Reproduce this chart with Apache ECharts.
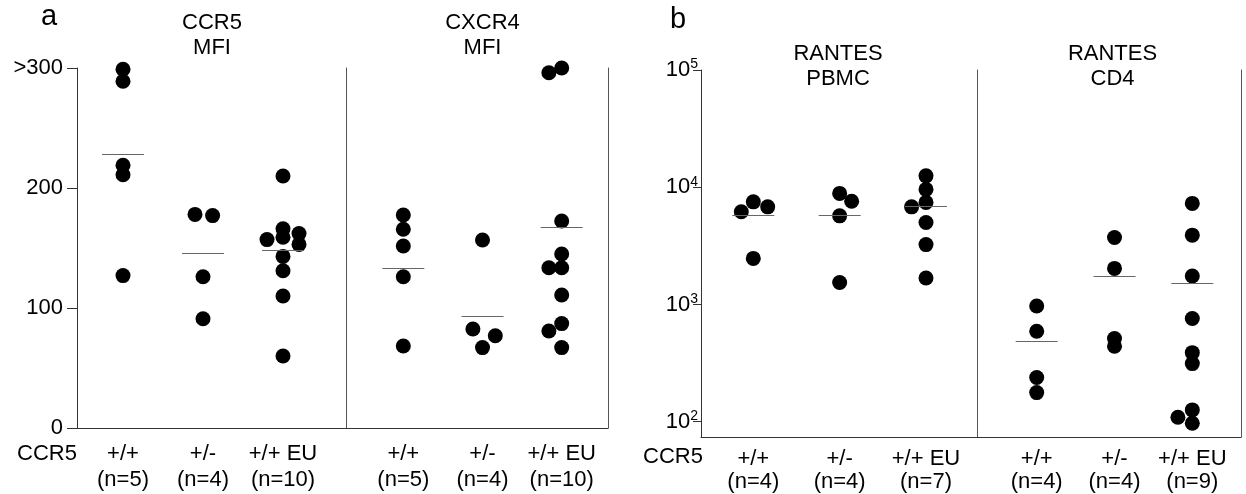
<!DOCTYPE html>
<html>
<head>
<meta charset="utf-8">
<script src="https://cdn.jsdelivr.net/npm/echarts@6/dist/echarts.min.js"></script>
<style>
html,body{margin:0;padding:0;background:#ffffff;}
#chart{width:1246px;height:494px;}
</style>
</head>
<body>
<div id="chart"></div>
<script>
// ---------------- DATA ----------------
const genotypes = ['+/+', '+/-', '+/+ EU'];

// Panel a — CCR5 MFI (values above 300 shown at ">300")
const ccr5MFI = [
  [299, 289, 219, 211, 127],
  [178, 177, 126, 91],
  [210, 166, 157, 159, 162, 153, 143, 131, 110, 60]
];
const ccr5MFISlots = [
  [0, 0, 0, 0, 0],
  [-0.5, 0.6, 0, 0],
  [0, 0, -1, 0, 1, 1, 0, 0, 0, 0]
];
const ccr5MFIMeans = [228, 146, 148];

// Panel a — CXCR4 MFI
const cxcr4MFI = [
  [177.5, 165.6, 151.7, 126, 68.3],
  [156.7, 82.5, 76.9, 67],
  [296, 300, 172.5, 145, 133.6, 133.6, 110.8, 87, 80.8, 67]
];
const cxcr4MFISlots = [
  [0, 0, 0, 0, 0],
  [0, -0.6, 0.8, 0],
  [-0.8, 0, 0, 0, -0.8, 0, 0, 0, -0.8, 0]
];
const cxcr4MFIMeans = [133, 93, 167];

// Panel b — RANTES PBMC
const rantesPBMC = [
  [6170, 7500, 6800, 2470],
  [8860, 7600, 5700, 1540],
  [12500, 9580, 7420, 6800, 5000, 3240, 1680]
];
const rantesPBMCSlots = [
  [-0.75, 0, 0.9, 0],
  [0, 0.75, 0, 0],
  [0, 0, 0, -0.9, 0, 0, 0]
];
const rantesPBMCMeans = [5780, 5780, 6900];

// Panel b — RANTES CD4
const rantesCD4 = [
  [971, 590, 238, 177],
  [3720, 2030, 512, 440],
  [7280, 3900, 1750, 758, 388, 313, 126, 109, 97]
];
const rantesCD4Slots = [
  [0, 0, 0, 0],
  [0, 0, 0, 0],
  [0, 0, 0, 0, 0, 0, 0, -0.9, 0]
];
const rantesCD4Means = [485, 1742, 1528];

// Tick values
const mfiTicks = [0, 100, 200, 300];
const mfiTopLabel = '>300';

// ---------------- LAYOUT / STYLE ----------------
const FONT = '"Liberation Sans", Arial, Helvetica, sans-serif';
const FS = 22;
const DOT = 15;
const DODGE_PX = 16;
const MEAN_HALF_PX = 21;

const panels = [
  {title: 'CCR5\nMFI', tx: 212, ty: 10, left: 77, top: 68, width: 269, height: 360, xMin: 0.425, xMax: 3.7875,
   values: ccr5MFI, slots: ccr5MFISlots, means: ccr5MFIMeans, kind: 'a', first: true},
  {title: 'CXCR4\nMFI', tx: 482.5, ty: 10, left: 346, top: 68, width: 262, height: 360, xMin: 0.2765, xMax: 3.5846,
   values: cxcr4MFI, slots: cxcr4MFISlots, means: cxcr4MFIMeans, kind: 'a', first: false},
  {title: 'RANTES\nPBMC', tx: 838, ty: 41, left: 701, top: 70, width: 276, height: 367, xMin: 0.3943, xMax: 3.5906,
   values: rantesPBMC, slots: rantesPBMCSlots, means: rantesPBMCMeans, kind: 'b', first: true},
  {title: 'RANTES\nCD4', tx: 1112.5, ty: 41, left: 977, top: 70, width: 264, height: 367, xMin: 0.2326, xMax: 3.626,
   values: rantesCD4, slots: rantesCD4Slots, means: rantesCD4Means, kind: 'b', first: false}
];

const grids = [], xAxes = [], yAxes = [], series = [], titles = [];

titles.push({text: 'a', left: 49, top: 2, textAlign: 'center', padding: 0,
  textStyle: {fontFamily: FONT, fontSize: 29, fontWeight: 'normal', color: '#000', lineHeight: 29}});
titles.push({text: 'b', left: 678, top: 5, textAlign: 'center', padding: 0,
  textStyle: {fontFamily: FONT, fontSize: 29, fontWeight: 'normal', color: '#000', lineHeight: 29}});
titles.push({text: 'CCR5', left: 47, top: 441, textAlign: 'center', padding: 0,
  textStyle: {fontFamily: FONT, fontSize: FS, fontWeight: 'normal', color: '#000', lineHeight: 25}});
titles.push({text: 'CCR5', left: 673, top: 445, textAlign: 'center', padding: 0,
  textStyle: {fontFamily: FONT, fontSize: FS, fontWeight: 'normal', color: '#000', lineHeight: 23}});

panels.forEach((p, gi) => {
  grids.push({left: p.left, top: p.top, width: p.width, height: p.height, containLabel: false});
  titles.push({text: p.title, left: p.tx, top: p.ty, textAlign: 'center', padding: 0,
    textStyle: {fontFamily: FONT, fontSize: FS, fontWeight: 'normal', color: '#000', lineHeight: 25}});

  const pxPerUnit = p.width / (p.xMax - p.xMin);
  const dodge = DODGE_PX / pxPerUnit;
  const half = MEAN_HALF_PX / pxPerUnit;
  const counts = p.values.map(v => v.length);

  xAxes.push({
    type: 'value', gridIndex: gi, min: p.xMin, max: p.xMax,
    axisLine: {show: true, onZero: false, lineStyle: {color: '#333', width: 1}},
    axisTick: {show: false},
    splitLine: {show: false},
    axisLabel: {
      show: true,
      customValues: [1, 2, 3],
      formatter: (v) => {
        const i = Math.round(v) - 1;
        return genotypes[i] + '\n(n=' + counts[i] + ')';
      },
      fontFamily: FONT, fontSize: FS, color: '#000',
      lineHeight: p.kind === 'a' ? 26 : 23,
      margin: p.kind === 'a' ? 13 : 10
    }
  });

  const yIndex = yAxes.length;
  if (p.kind === 'a') {
    yAxes.push({
      type: 'value', gridIndex: gi, min: mfiTicks[0], max: mfiTicks[mfiTicks.length - 1], interval: 100,
      axisLine: {show: true, onZero: false, lineStyle: {color: p.first ? '#333' : '#555', width: 1}},
      axisTick: {show: p.first, length: 10, lineStyle: {color: '#333', width: 1}},
      splitLine: {show: false},
      axisLabel: {
        show: p.first, margin: 14, fontFamily: FONT, fontSize: FS, color: '#000',
        formatter: (v) => (v === mfiTicks[mfiTicks.length - 1] ? mfiTopLabel : String(v))
      }
    });
  } else {
    yAxes.push({
      type: 'log', logBase: 10, gridIndex: gi, min: 74, max: 100000,
      axisLine: {show: true, onZero: false, lineStyle: {color: p.first ? '#333' : '#555', width: 1}},
      axisTick: {show: p.first, length: 8, lineStyle: {color: '#333', width: 1}},
      splitLine: {show: false},
      minorTick: {show: false},
      axisLabel: {
        show: p.first, margin: 3, showMinLabel: false,
        formatter: (v) => '{b|10}{s|' + Math.round(Math.log10(v)) + '}',
        rich: {
          b: {fontFamily: FONT, fontSize: FS, color: '#000', lineHeight: 25},
          s: {fontFamily: FONT, fontSize: 14, color: '#000', lineHeight: 14, verticalAlign: 'top'}
        }
      }
    });
  }
  if (!p.first) {
    // right-hand frame line of the panel
    yAxes.push({
      type: p.kind === 'a' ? 'value' : 'log', gridIndex: gi, position: 'right',
      min: p.kind === 'a' ? 0 : 74, max: p.kind === 'a' ? 300 : 100000,
      axisLine: {show: true, onZero: false, lineStyle: {color: '#555', width: 1}},
      axisTick: {show: false}, axisLabel: {show: false}, splitLine: {show: false}
    });
  }

  const pts = [];
  p.values.forEach((grp, g) => {
    grp.forEach((val, k) => {
      pts.push([g + 1 + p.slots[g][k] * dodge, val]);
    });
  });

  series.push({
    type: 'scatter', xAxisIndex: gi, yAxisIndex: yIndex,
    data: pts, symbol: 'circle', symbolSize: DOT,
    itemStyle: {color: '#000', opacity: 1},
    silent: true, animation: false, z: 3,
    markLine: {
      silent: true, symbol: 'none', animation: false,
      label: {show: false},
      lineStyle: {color: '#666', width: 1.2, type: 'solid'},
      data: p.means.map((m, g) => [{coord: [g + 1 - half, m]}, {coord: [g + 1 + half, m]}])
    }
  });
});

const chart = echarts.init(document.getElementById('chart'), null, {renderer: 'canvas'});
chart.setOption({
  backgroundColor: '#ffffff',
  animation: false,
  title: titles,
  grid: grids,
  xAxis: xAxes,
  yAxis: yAxes,
  series: series
});
</script>
</body>
</html>
